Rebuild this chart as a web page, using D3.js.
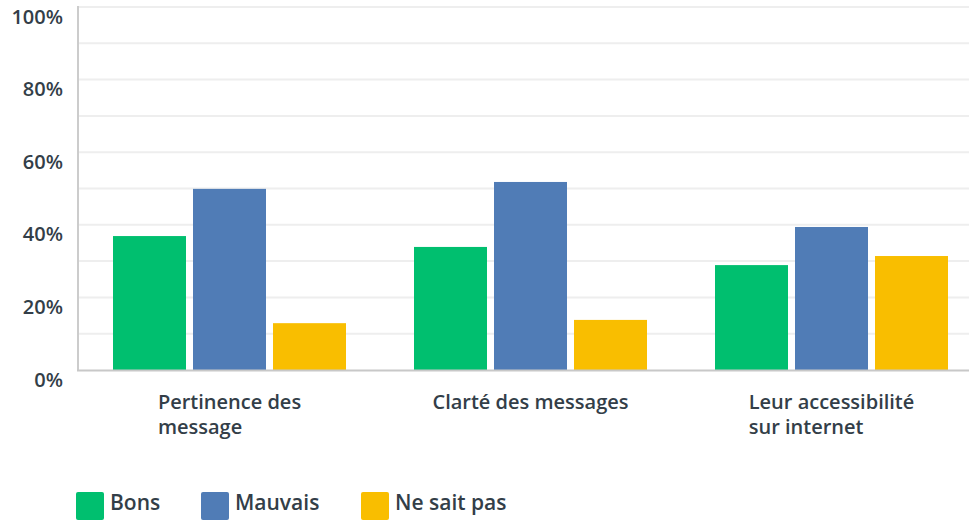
<!DOCTYPE html>
<html><head><meta charset="utf-8">
<script src="https://cdn.jsdelivr.net/npm/d3@7"></script>
<style>
html,body{margin:0;padding:0;background:#fff;}
svg{display:block;font-family:"Open Sans",Roboto,sans-serif;}
</style></head>
<body><svg id="c" width="969" height="520"></svg>
<script>
const categories = [["Pertinence des","message"],["Clarté des messages"],["Leur accessibilité","sur internet"]];
const seriesNames = ["Bons","Mauvais","Ne sait pas"];
const bons = [36.9, 33.9, 28.9];
const mauvais = [49.9, 51.8, 39.4];
const neSaitPas = [12.9, 13.8, 31.4];
const colors = ["#00bf6f","#507cb6","#f9be00"];
const yTicks = [0,20,40,60,80,100];
const yMinor = [10,30,50,70,90];

const series = [bons, mauvais, neSaitPas];
const svg = d3.select("#c");
const textColor = "#333e48";
const FW = 600;

const x0 = d3.scaleBand().domain(d3.range(categories.length)).range([79, 982]).paddingInner(0).paddingOuter(0);
const x1 = d3.scaleBand().domain(d3.range(seriesNames.length)).range([0, 233]).paddingInner(7/80);
const y = d3.scaleLinear().domain([0,100]).range([370, 7]);

// gridlines
svg.append("g").selectAll("line").data(yTicks.concat(yMinor).filter(d=>d>0)).join("line")
  .attr("x1",79).attr("x2",969).attr("y1",d=>y(d)).attr("y2",d=>y(d))
  .attr("stroke","#eeeeee").attr("stroke-width",2);

// y axis line
svg.append("line").attr("x1",78).attr("x2",78).attr("y1",y(100)-1).attr("y2",y(0)+1)
  .attr("stroke","#cccccc").attr("stroke-width",2);

// y labels
svg.append("g").selectAll("text").data(yTicks).join("text")
  .attr("x",63).attr("y",d=>y(d)+16.5)
  .attr("text-anchor","end").attr("fill",textColor)
  .attr("font-size",20).attr("font-weight",FW)
  .text(d=>d+"%");

// bars
const groups = svg.append("g").selectAll("g").data(categories).join("g")
  .attr("transform",(d,i)=>`translate(${x0(i)+x0.bandwidth()/2-116.5},0)`);
groups.selectAll("rect").data((d,i)=>series.map((s,j)=>({j,v:s[i]}))).join("rect")
  .attr("x",d=>x1(d.j)).attr("width",x1.bandwidth())
  .attr("y",d=>y(d.v)).attr("height",d=>y(0)-y(d.v))
  .attr("fill",d=>colors[d.j]);

// x axis line
svg.append("line").attr("x1",77).attr("x2",969).attr("y1",370.5).attr("y2",370.5)
  .attr("stroke","#c8c8c8").attr("stroke-width",2);

// category labels
categories.forEach((lines,i)=>{
  const g = svg.append("g");
  const t = g.append("text").attr("fill",textColor).attr("font-size",20).attr("font-weight",FW);
  lines.forEach((l,k)=>t.append("tspan").attr("x",0).attr("y",409+k*25).text(l));
  const w = t.node().getBBox().width;
  g.attr("transform",`translate(${x0(i)+x0.bandwidth()/2 - w/2},0)`);
});

// legend
const legendX = [76, 201, 361];
const lg = svg.append("g").selectAll("g").data(seriesNames).join("g")
  .attr("transform",(d,i)=>`translate(${legendX[i]},492)`);
lg.append("rect").attr("width",28).attr("height",28).attr("rx",2).attr("fill",(d,i)=>colors[i]);
lg.append("text").attr("x",34).attr("y",18).attr("fill",textColor)
  .attr("font-size",21).attr("font-weight",FW).text(d=>d);
</script>
</body></html>
